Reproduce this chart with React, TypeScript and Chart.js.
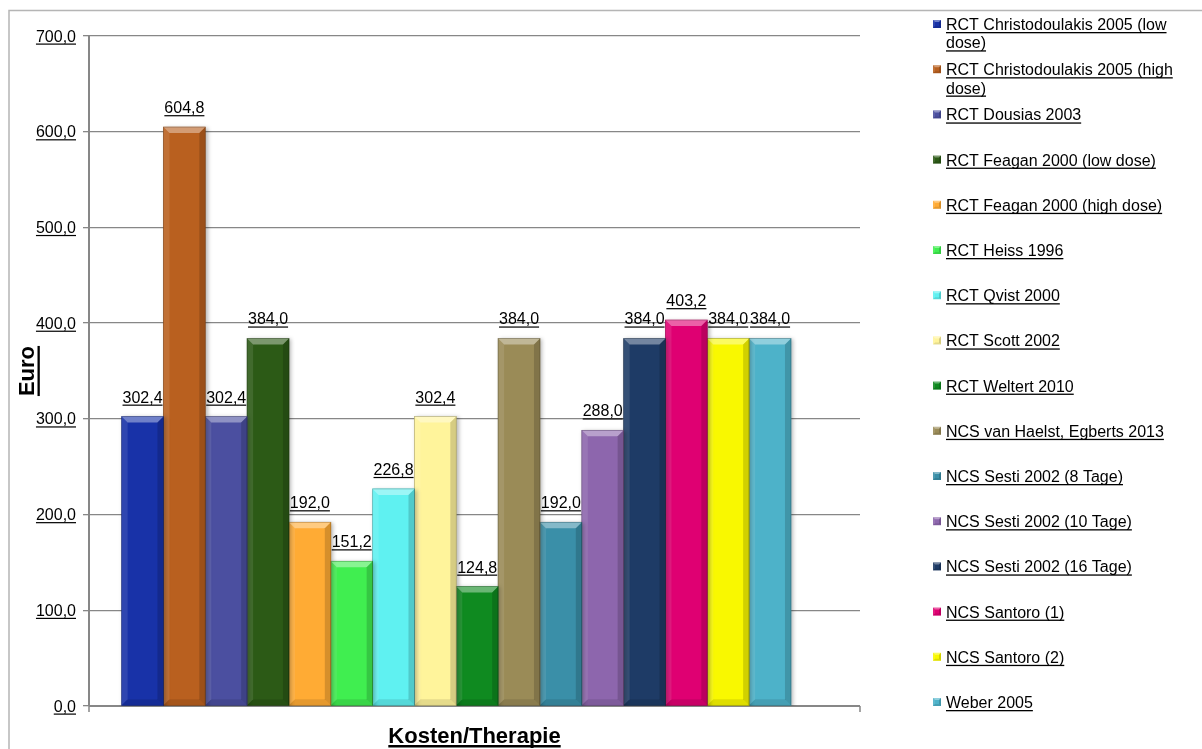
import { useEffect, useRef } from "react";
import { Chart, registerables } from "chart.js";

Chart.register(...registerables);

// Series (one bar each) — cost per therapy in Euro
const seriesNames = [
  "RCT Christodoulakis 2005 (low dose)",
  "RCT Christodoulakis 2005 (high dose)",
  "RCT Dousias 2003",
  "RCT Feagan 2000 (low dose)",
  "RCT Feagan 2000 (high dose)",
  "RCT Heiss 1996",
  "RCT Qvist 2000",
  "RCT Scott 2002",
  "RCT Weltert 2010",
  "NCS van Haelst, Egberts 2013",
  "NCS Sesti 2002 (8 Tage)",
  "NCS Sesti 2002 (10 Tage)",
  "NCS Sesti 2002 (16 Tage)",
  "NCS Santoro (1)",
  "NCS Santoro (2)",
  "Weber 2005",
];

const seriesValues = [
  302.4, 604.8, 302.4, 384.0, 192.0, 151.2, 226.8, 302.4, 124.8, 384.0, 192.0,
  288.0, 384.0, 403.2, 384.0, 384.0,
];

const seriesColors = [
  "#1832a8",
  "#b9601f",
  "#4b4fa0",
  "#2c5a16",
  "#ffab34",
  "#40ee50",
  "#5ff1f1",
  "#fff49b",
  "#0f8a20",
  "#9a8b57",
  "#3a8fa8",
  "#8d66ad",
  "#1e3b66",
  "#df0072",
  "#f9f800",
  "#4db2c9",
];

const yTickValues = [0, 100, 200, 300, 400, 500, 600, 700];
const xAxisTitle = "Kosten/Therapie";
const yAxisTitle = "Euro";

const FONT = '"Liberation Sans", Arial, sans-serif';
const AXIS_GRAY = "#878787";

const fmt = (v: number) => v.toFixed(1).replace(".", ",");

function underlinedText(
  ctx: CanvasRenderingContext2D,
  text: string,
  x: number,
  y: number,
  align: CanvasTextAlign,
  ulOffset: number,
  ulWidth: number
) {
  ctx.textAlign = align;
  ctx.textBaseline = "alphabetic";
  ctx.fillText(text, x, y);
  const w = ctx.measureText(text).width;
  let x0 = x;
  if (align === "center") x0 = x - w / 2;
  else if (align === "right") x0 = x - w;
  ctx.fillRect(x0, y + ulOffset, w, ulWidth);
}

function wrapText(ctx: CanvasRenderingContext2D, text: string, maxW: number) {
  const words = text.split(" ");
  const lines: string[] = [];
  let cur = "";
  for (const w of words) {
    const test = cur ? cur + " " + w : w;
    if (ctx.measureText(test).width > maxW && cur) {
      lines.push(cur);
      cur = w;
    } else cur = test;
  }
  if (cur) lines.push(cur);
  return lines;
}

function bevelBox(
  ctx: CanvasRenderingContext2D,
  left: number,
  top: number,
  right: number,
  bottom: number,
  b: number
) {
  const bb = Math.min(b, (bottom - top) / 2);
  // top facet
  ctx.fillStyle = "rgba(255,255,255,0.38)";
  ctx.beginPath();
  ctx.moveTo(left, top);
  ctx.lineTo(right, top);
  ctx.lineTo(right - bb, top + bb);
  ctx.lineTo(left + bb, top + bb);
  ctx.closePath();
  ctx.fill();
  // left facet
  ctx.fillStyle = "rgba(255,255,255,0.10)";
  ctx.beginPath();
  ctx.moveTo(left, top);
  ctx.lineTo(left + bb, top + bb);
  ctx.lineTo(left + bb, bottom - bb);
  ctx.lineTo(left, bottom);
  ctx.closePath();
  ctx.fill();
  // right facet
  ctx.fillStyle = "rgba(0,0,0,0.16)";
  ctx.beginPath();
  ctx.moveTo(right, top);
  ctx.lineTo(right - bb, top + bb);
  ctx.lineTo(right - bb, bottom - bb);
  ctx.lineTo(right, bottom);
  ctx.closePath();
  ctx.fill();
  // bottom facet
  ctx.fillStyle = "rgba(0,0,0,0.10)";
  ctx.beginPath();
  ctx.moveTo(left, bottom);
  ctx.lineTo(left + bb, bottom - bb);
  ctx.lineTo(right - bb, bottom - bb);
  ctx.lineTo(right, bottom);
  ctx.closePath();
  ctx.fill();
}

const decorPlugin = {
  id: "decor",
  beforeDraw(chart: any) {
    const ctx = chart.ctx as CanvasRenderingContext2D;
    ctx.save();
    ctx.fillStyle = "#ffffff";
    ctx.fillRect(0, 0, chart.width, chart.height);
    // outer frame
    ctx.strokeStyle = "#b5b5b5";
    ctx.lineWidth = 1.5;
    ctx.beginPath();
    ctx.moveTo(9, chart.height);
    ctx.lineTo(9, 10.5);
    ctx.lineTo(chart.width, 10.5);
    ctx.stroke();
    ctx.restore();
  },
  beforeDatasetsDraw(chart: any) {
    const ctx = chart.ctx as CanvasRenderingContext2D;
    const { left, right, bottom } = chart.chartArea;
    // category axis line with end ticks
    ctx.save();
    ctx.strokeStyle = AXIS_GRAY;
    ctx.lineWidth = 2;
    ctx.beginPath();
    ctx.moveTo(left, bottom);
    ctx.lineTo(right, bottom);
    ctx.stroke();
    ctx.lineWidth = 1.5;
    ctx.beginPath();
    ctx.moveTo(left, bottom);
    ctx.lineTo(left, bottom + 6);
    ctx.moveTo(right, bottom);
    ctx.lineTo(right, bottom + 6);
    ctx.stroke();
    ctx.restore();
    // soft shadow behind the bars
    ctx.save();
    ctx.shadowColor = "rgba(0,0,0,0.28)";
    ctx.shadowBlur = 4;
    ctx.shadowOffsetX = 2;
    ctx.shadowOffsetY = 1;
  },
  afterDatasetsDraw(chart: any) {
    const ctx = chart.ctx as CanvasRenderingContext2D;
    ctx.restore();
    ctx.save();
    chart.data.datasets.forEach((_: any, di: number) => {
      const meta = chart.getDatasetMeta(di);
      meta.data.forEach((bar: any) => {
        const w = bar.width;
        bevelBox(ctx, bar.x - w / 2, bar.y, bar.x + w / 2, bar.base, 6);
        ctx.strokeStyle = "rgba(0,0,0,0.25)";
        ctx.lineWidth = 0.8;
        ctx.strokeRect(bar.x - w / 2, bar.y, w, bar.base - bar.y);
      });
    });
    ctx.restore();
  },
  afterDraw(chart: any) {
    const ctx = chart.ctx as CanvasRenderingContext2D;
    const yScale = chart.scales.y;
    const { left, right, top, bottom } = chart.chartArea;
    ctx.save();
    ctx.fillStyle = "#000";

    // value-axis tick labels
    ctx.font = `16px ${FONT}`;
    yTickValues.forEach((v) => {
      const y = yScale.getPixelForValue(v);
      underlinedText(ctx, fmt(v), left - 13, y + 5.5, "right", 2, 1.2);
    });

    // value labels above bars
    chart.data.datasets.forEach((ds: any, di: number) => {
      const meta = chart.getDatasetMeta(di);
      meta.data.forEach((bar: any, i: number) => {
        const v = ds.data[i].y as number;
        underlinedText(ctx, fmt(v), bar.x, bar.y - 14, "center", 2, 1.2);
      });
    });

    // axis titles
    ctx.font = `bold 22px ${FONT}`;
    underlinedText(ctx, xAxisTitle, (left + right) / 2, 743, "center", 2, 2.5);
    ctx.save();
    ctx.translate(34, (top + bottom) / 2);
    ctx.rotate(-Math.PI / 2);
    underlinedText(ctx, yAxisTitle, 0, 0, "center", 3.5, 2.3);
    ctx.restore();

    // legend
    ctx.font = `16px ${FONT}`;
    const textX = 946;
    chart.data.datasets.forEach((ds: any, di: number) => {
      const base = 30 + di * 45.2;
      const lines = wrapText(ctx, ds.label, 240);
      lines.forEach((ln, j) => {
        ctx.fillStyle = "#000";
        underlinedText(ctx, ln, textX, base + j * 18.3, "left", 2, 1.3);
      });
      const mx = 933;
      const my = base - 10;
      ctx.fillStyle = ds.backgroundColor;
      ctx.fillRect(mx, my, 8, 8);
      bevelBox(ctx, mx, my, mx + 8, my + 8, 2);
    });
    ctx.restore();
  },
};

export default function App() {
  const canvasRef = useRef<HTMLCanvasElement>(null);

  useEffect(() => {
    const canvas = canvasRef.current;
    if (!canvas) return;
    const datasets = seriesNames.map((name, i) => ({
      label: name,
      data: [{ x: i, y: seriesValues[i] }],
      backgroundColor: seriesColors[i],
      borderWidth: 0,
      barPercentage: 1,
      categoryPercentage: 1,
    }));

    const chart = new Chart(canvas, {
      type: "bar",
      data: { datasets },
      options: {
        responsive: false,
        animation: false,
        devicePixelRatio: 1,
        layout: { padding: { left: 0, top: 36, right: 342, bottom: 43 } },
        plugins: {
          legend: { display: false },
          tooltip: { enabled: false },
          title: { display: false },
        },
        scales: {
          x: {
            type: "linear",
            display: false,
            offset: false,
            stacked: true,
            min: -1.28,
            max: 17.15,
          },
          y: {
            stacked: true,
            min: 0,
            max: 700,
            ticks: { display: false, stepSize: 100 },
            grid: {
              color: AXIS_GRAY,
              lineWidth: 1.3,
              drawTicks: true,
              tickLength: 6,
            },
            border: { display: true, color: AXIS_GRAY, width: 2 },
            afterFit: (scale: any) => {
              scale.width = 89;
            },
          },
        },
      } as any,
      plugins: [decorPlugin],
    });

    return () => chart.destroy();
  }, []);

  return (
    <div
      style={{
        position: "absolute",
        left: 0,
        top: 0,
        width: 1202,
        height: 749,
        background: "#fff",
      }}
    >
      <canvas
        ref={canvasRef}
        width={1202}
        height={749}
        style={{ display: "block", width: 1202, height: 749 }}
      />
    </div>
  );
}
